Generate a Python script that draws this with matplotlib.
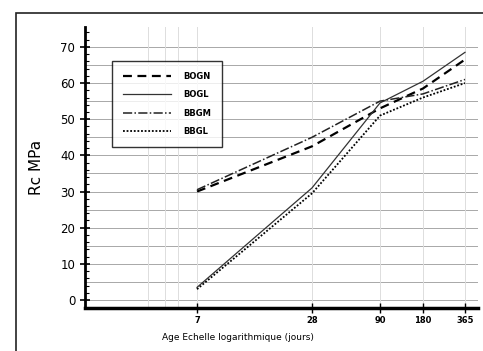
import numpy as np
import matplotlib
matplotlib.use("Agg")
import matplotlib.pyplot as plt
from matplotlib.patches import Rectangle

# ages (days) and compressive strength (MPa)
ages = [7, 28, 90, 180, 365]
age_labels = ["7", "28", "90", "180", "365"]
bogn = [30.0, 42.5, 53.0, 58.5, 66.5]
bogl = [3.5, 31.0, 54.5, 60.5, 68.5]
bbgm = [30.5, 45.0, 55.0, 57.0, 61.0]
bbgl = [3.0, 29.5, 51.0, 56.0, 60.0]

# hand-drawn "log" axis of the original: piecewise log scale
anchor_days = np.array([1, 7, 28, 90, 180, 365, 460])
anchor_pos = np.array([0, 112, 227, 295, 338, 380, 393])


def fwd(x):
    x = np.clip(np.asarray(x, dtype=float), 1e-3, None)
    return np.interp(np.log10(x), np.log10(anchor_days), anchor_pos,
                     left=-1e3, right=1e3)


def inv(p):
    return 10 ** np.interp(p, anchor_pos, np.log10(anchor_days))


fig = plt.figure(figsize=(4.83, 3.51), dpi=100)
fig.patches.append(Rectangle((16 / 483, -0.1), 1.2, 1 - 13 / 351 + 0.1,
                             transform=fig.transFigure, fill=False,
                             edgecolor="#222222", linewidth=1.2))
ax = fig.add_axes([85 / 483, 1 - 308 / 351, 393 / 483, 281 / 351])
ax.set_xscale("function", functions=(fwd, inv))

ax.plot(ages, bogn, color="black", ls=(0, (4, 2.5)), lw=1.6, label="BOGN")
ax.plot(ages, bogl, color="#333333", ls="-", lw=0.9, label="BOGL")
ax.plot(ages, bbgm, color="#222222", ls=(0, (6, 1.5, 1, 1.5)), lw=1.1, label="BBGM")
ax.plot(ages, bbgl, color="black", ls=(0, (1, 1)), lw=1.3, label="BBGL")

ax.set_xlim(1, 460)
ax.set_ylim(-2.2, 75.5)
ax.set_xticks(ages)
ax.set_xticklabels(age_labels, fontsize=6, fontweight="bold")
ax.set_xticks([3, 4, 5], minor=True)
ax.set_yticks(range(0, 71, 10))
ax.set_yticks(np.arange(0, 75, 2), minor=True)
ax.tick_params(axis="y", labelsize=8.5, direction="inout", length=7, width=1.2)
ax.tick_params(axis="y", which="minor", direction="in", length=3, width=0.8)
ax.tick_params(axis="x", direction="inout", length=7, width=1, pad=2)
ax.tick_params(axis="x", which="minor", length=0)

# background grid
for yv in np.arange(0, 75, 5):
    ax.axhline(yv, color="#a8a8a8", lw=0.7, zorder=0)
ax.grid(True, axis="x", which="both", color="#dddddd", lw=0.7, zorder=0)

for side in ["top", "right"]:
    ax.spines[side].set_visible(False)
ax.spines["left"].set_linewidth(2)
ax.spines["bottom"].set_linewidth(2.5)

ax.set_ylabel("Rc MPa", fontsize=11, labelpad=12)
ax.set_xlabel("Age Echelle logarithmique (jours)", fontsize=6.5)
ax.xaxis.set_label_coords(0.39, -0.09)

leg = ax.legend(loc="upper left", bbox_to_anchor=(0.058, 0.895), fontsize=6,
                frameon=True, fancybox=False, edgecolor="black",
                handlelength=5.8, labelspacing=1.15, borderpad=1.3,
                handletextpad=1.4, alignment="right")
leg.get_frame().set_linewidth(1)
for t in leg.get_texts():
    t.set_fontweight("bold")

fig.savefig("out.png", dpi=100)
